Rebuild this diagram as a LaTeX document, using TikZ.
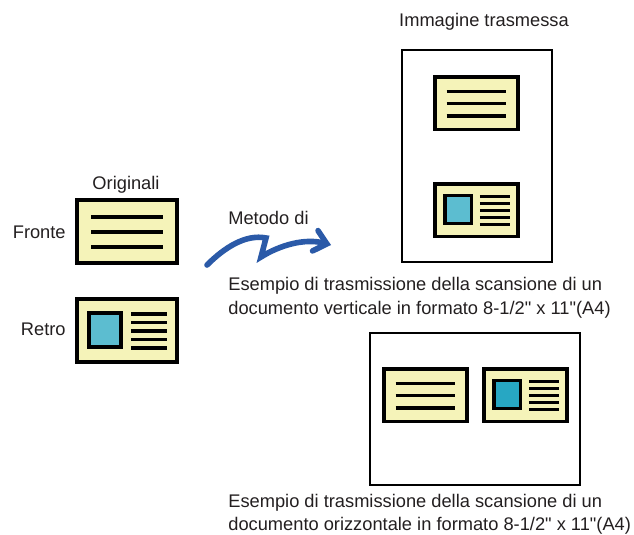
\documentclass[tikz,border=0pt]{standalone}
\usepackage{fontspec}
\setmainfont{Liberation Sans}
\usetikzlibrary{arrows.meta}
\definecolor{cardyellow}{HTML}{F5F3B9}
\definecolor{photoblue}{HTML}{5CBDD0}
\definecolor{photodark}{HTML}{27A7C3}
\definecolor{flowblue}{HTML}{2B5AA8}
\definecolor{textgray}{HTML}{231F20}

\begin{document}
\begin{tikzpicture}[
  x=0.02cm, y=-0.02cm,
  line join=miter,
  card/.style={draw=black, fill=cardyellow, line width=1.8pt},
  txtline/.style={line width=1.8pt},
  page/.style={draw=black, line width=1.5pt},
  flow/.style={draw=flowblue, line width=3.2pt, line cap=round,
    -{Straight Barb[length=2.4mm, width=4.2mm, line cap=round]}},
  every node/.style={font=\fontsize{10.4}{13.2}\selectfont, text=textgray, inner sep=0pt}
]
  \useasboundingbox (0,0) rectangle (634,534);

  % Pages of the sent image
  \draw[page] (402,50) rectangle (552,262);
  \draw[page] (370,333) rectangle (580,485);

  % Front sides (lines of text)
  \foreach \px/\py/\s in {77/200/1, 435/77/0.83, 384/369/0.83} {
    \begin{scope}[shift={(\px,\py)}, scale=\s]
      \draw[card] (0,0) rectangle (100,63);
      \foreach \ly in {17,32,47}
        \draw[txtline] (14,\ly) -- (86,\ly);
    \end{scope}
  }

  % Back sides (photo and lines)
  \foreach \px/\py/\s/\c in {77/299/1/photoblue, 435/184/0.83/photoblue, 484/369/0.83/photodark} {
    \begin{scope}[shift={(\px,\py)}, scale=\s]
      \draw[card] (0,0) rectangle (100,63);
      \draw[line width=1.8pt, fill=\c] (12,14) rectangle (44,48);
      \foreach \ly in {15,23.5,32,40.5,49}
        \draw[txtline] (54,\ly) -- (90,\ly);
    \end{scope}
  }

  % Scan method arrow
  \coordinate (flowstart) at (207,265);
  \coordinate (flowend) at (331,245);
  \draw[flow] (flowstart) .. controls (225,247) and (246,234) .. (266,238)
    -- (261,257) .. controls (280,245) and (305,238) .. (flowend);

  % Labels
  \node[anchor=base] (originali) at (126,189) {Originali};
  \node[anchor=base east] (fronte) at (66,238) {Fronte};
  \node[anchor=base east] (retro) at (66,335) {Retro};
  \node[anchor=base west] (metodo) at (228,224.5) {Metodo di};
  \node[anchor=base] (immagine) at (484,26.5) {Immagine trasmessa};
  \node[anchor=base west, align=left] (verticale) at (228,314)
    {Esempio di trasmissione della scansione di un\\documento verticale in formato 8-1/2\textquotedbl{} x 11\textquotedbl(A4)};
  \node[anchor=base west, align=left] (orizzontale) at (228,530.5)
    {Esempio di trasmissione della scansione di un\\documento orizzontale in formato 8-1/2\textquotedbl{} x 11\textquotedbl(A4)};
\end{tikzpicture}
\end{document}
